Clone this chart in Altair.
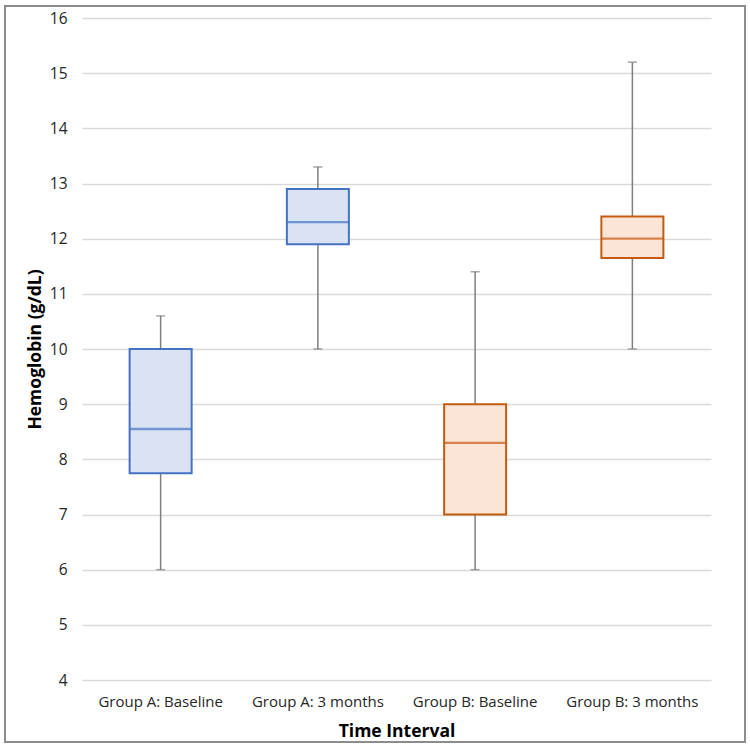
import altair as alt
import pandas as pd

groups = ["Group A: Baseline", "Group A: 3 months", "Group B: Baseline", "Group B: 3 months"]
mins = [6.0, 10.0, 6.0, 10.0]
q1s = [7.75, 11.9, 7.0, 11.65]
medians = [8.55, 12.3, 8.3, 12.0]
q3s = [10.0, 12.9, 9.0, 12.4]
maxs = [10.6, 13.3, 11.4, 15.2]
y_ticks = [4, 5, 6, 7, 8, 9, 10, 11, 12, 13, 14, 15, 16]

fills = ["#DAE3F3", "#DAE3F3", "#FBE5D6", "#FBE5D6"]
strokes = ["#4472C4", "#4472C4", "#C55A11", "#C55A11"]

df = pd.DataFrame({"group": groups, "min": mins, "q1": q1s, "median": medians, "q3": q3s, "max": maxs})

FONT = "Open Sans"
W, H = 629, 662

x = alt.X("group:N", sort=groups, title="Time Interval",
          scale=alt.Scale(paddingInner=0, paddingOuter=0),
          axis=alt.Axis(labelAngle=0, labelFontSize=15, labelFont=FONT, labelColor="#262626",
                        labelPadding=14, ticks=False, domain=False, grid=False,
                        titleFont=FONT, titleFontSize=17.5, titleFontWeight="bold", titleColor="#000000",
                        titlePadding=13))
yscale = alt.Scale(domain=[4, 16], nice=False, zero=False)
yaxis = alt.Axis(values=y_ticks, format="d", title="Hemoglobin (g/dL)", labelFontSize=15.5, labelFont=FONT,
                 labelColor="#262626", labelPadding=15, ticks=False, domain=False,
                 gridColor="#D9D9D9", gridWidth=1.3,
                 titleFont=FONT, titleFontSize=17.5, titleFontWeight="bold", titleColor="#000000",
                 titlePadding=5)

fill_scale = alt.Scale(domain=groups, range=fills)
stroke_scale = alt.Scale(domain=groups, range=strokes)

base = alt.Chart(df)

whisker = base.mark_rule(color="#7F7F7F", strokeWidth=1.5).encode(
    x=x, y=alt.Y("min:Q", scale=yscale, axis=yaxis), y2="max:Q")
cap_lo = base.mark_tick(color="#7F7F7F", size=9, thickness=1.5).encode(x=x, y=alt.Y("min:Q", scale=yscale))
cap_hi = base.mark_tick(color="#7F7F7F", size=9, thickness=1.5).encode(x=x, y=alt.Y("max:Q", scale=yscale))
box = base.mark_bar(size=62, strokeWidth=2).encode(
    x=x, y=alt.Y("q1:Q", scale=yscale), y2="q3:Q",
    fill=alt.Fill("group:N", scale=fill_scale, legend=None),
    stroke=alt.Stroke("group:N", scale=stroke_scale, legend=None))
med = base.mark_tick(size=62, thickness=2.3).encode(
    x=x, y=alt.Y("median:Q", scale=yscale),
    color=alt.Color("group:N", scale=stroke_scale, legend=None))

border = alt.Chart(pd.DataFrame({"k": [0]})).mark_rect(
    fill=None, stroke="#8C8C8C", strokeWidth=2).encode(
    x=alt.value(-77), x2=alt.value(663), y=alt.value(-12), y2=alt.value(724))

chart = alt.layer(whisker, cap_lo, cap_hi, box, med, border).properties(
    width=W, height=H,
    autosize=alt.AutoSizeParams(type="none"),
    padding={"left": 82, "top": 18, "right": 39, "bottom": 70},
    background="white",
).configure_view(strokeWidth=0)

chart.save("out.html", embed_options={"renderer": "svg", "actions": False})
